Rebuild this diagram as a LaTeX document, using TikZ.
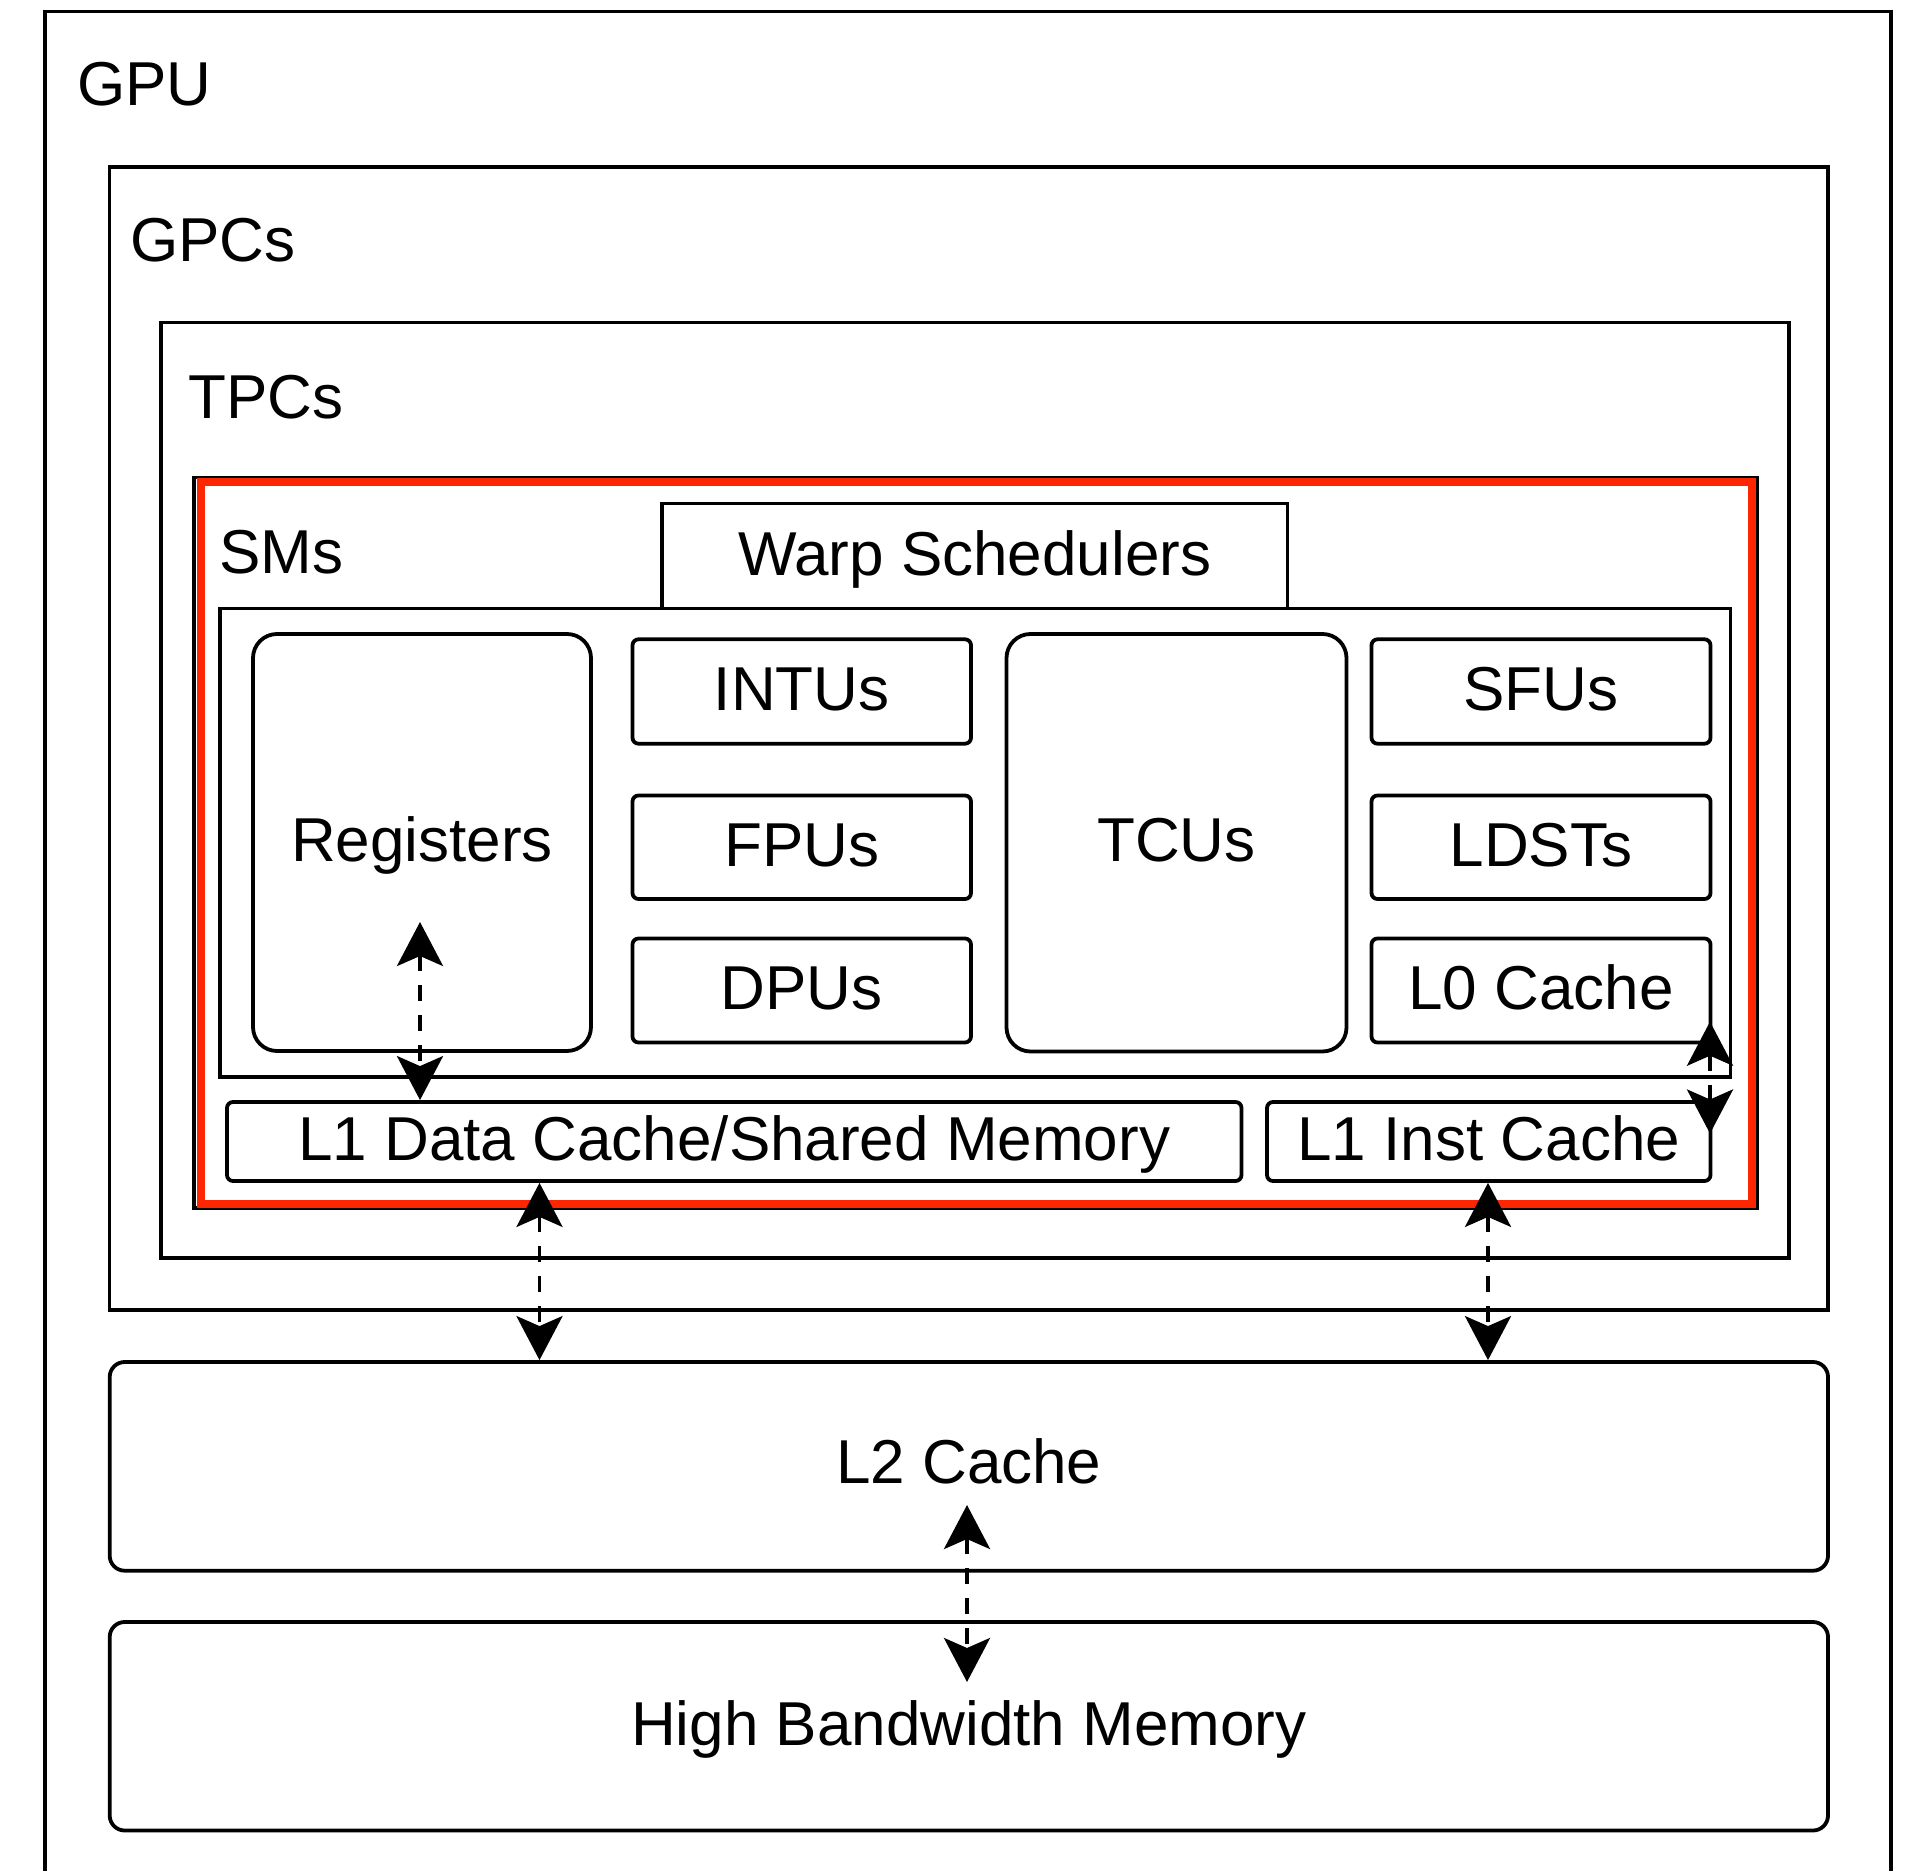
\documentclass[tikz,border=0pt]{standalone}
\usepackage{fontspec}
\setmainfont{Liberation Sans}
\usetikzlibrary{arrows.meta,fit}
\definecolor{smred}{RGB}{252,38,0}

\begin{document}
\begin{tikzpicture}[x=0.5pt,y=-0.5pt,
  every node/.style={inner sep=0pt},
  lbl/.style={font=\fontsize{31pt}{37pt}\selectfont},
  frame/.style={draw, line width=1.9pt},
  caption/.style={lbl, anchor=base, yshift=-9.5pt},
  unit/.style={frame, rounded corners=3pt},
  bigunit/.style={frame, rounded corners=12pt},
  memunit/.style={frame, rounded corners=7.5pt},
  title/.style={lbl, anchor=base west},
  link/.style={line width=1.9pt, dash pattern=on 8pt off 7pt, {Stealth[length=22pt,width=23pt,inset=5pt]}-{Stealth[length=22pt,width=23pt,inset=5pt]}}
]
\useasboundingbox (0,0) rectangle (1911,1871);
\clip (0,0) rectangle (1911,1871);

% nested containers
\node[frame, fit={(44.6,11.6) (1891,1920)}] (gpu) {};
\node[frame, fit={(109.5,167) (1828,1310)}] (gpc) {};
\node[frame, fit={(161,322.5) (1789,1258)}] (tpc) {};
\node[frame, fit={(194,477.5) (1757.5,1208)}] (sm) {};
\node[draw=smred, line width=3.8pt, fit={(201,482) (1752,1204)}] (smmark) {};

\node[title] (gputxt) at (77,105.7) {GPU};
\node[title] (gpctxt) at (130,262) {GPCs};
\node[title] (tpctxt) at (188,418.6) {TPCs};
\node[title] (smtxt) at (219,574) {SMs};

% SM core
\node[frame, fit={(220,608.5) (1730.5,1077)}] (core) {};
\node[frame, fit={(662,503.6) (1287.5,608.5)}] (warp) {};

\node[bigunit, fit={(253,634) (591,1051)}] (reg) {};
\node[unit, fit={(632.5,639.3) (971,743.7)}] (intu) {};
\node[unit, fit={(632.5,795.5) (971,899)}] (fpu) {};
\node[unit, fit={(632.5,938.5) (971,1042.5)}] (dpu) {};
\node[bigunit, fit={(1006.5,634) (1346.5,1051.5)}] (tcu) {};
\node[unit, fit={(1371.5,639.3) (1710.5,743.7)}] (sfu) {};
\node[unit, fit={(1371.5,795.5) (1710.5,899)}] (ldst) {};
\node[unit, fit={(1371.5,938.5) (1710.5,1042.5)}] (l0) {};

\node[unit, fit={(227,1102) (1241.5,1181)}] (l1d) {};
\node[unit, fit={(1267,1102) (1710.5,1181)}] (l1i) {};

% memory hierarchy below the GPCs
\node[memunit, fit={(109.7,1362) (1828,1570.7)}] (l2) {};
\node[memunit, fit={(109.7,1622) (1828,1830.5)}] (hbm) {};

% unit names, set on each box's centre line
\node[caption] (warptxt) at (warp.center) {Warp Schedulers};
\node[caption] (regtxt) at (reg.center) {Registers};
\node[caption] (intutxt) at (intu.center) {INTUs};
\node[caption] (fputxt) at (fpu.center) {FPUs};
\node[caption] (dputxt) at (dpu.center) {DPUs};
\node[caption] (tcutxt) at (tcu.center) {TCUs};
\node[caption] (sfutxt) at (sfu.center) {SFUs};
\node[caption] (ldsttxt) at (ldst.center) {LDSTs};
\node[caption] (l0txt) at (l0.center) {L0 Cache};
\node[caption] (l1dtxt) at (l1d.center) {L1 Data Cache/Shared Memory};
\node[caption] (l1itxt) at (l1i.center) {L1 Inst Cache};
\node[caption, yshift=1pt] (l2txt) at (l2.center) {L2 Cache};
\node[caption] (hbmtxt) at (hbm.center) {High Bandwidth Memory};

% data paths
\coordinate (regend) at (420,922);
\draw[link] (regend) -- (l1d.north -| regend);
\coordinate (dx) at (539.5,0);
\draw[link] (l1d.south -| dx) -- (l2.north -| dx);
\coordinate (ix) at (1488,0);
\draw[link] (l1i.south -| ix) -- (l2.north -| ix);
\coordinate (l0end) at (1710,1021.7);
\coordinate (l1iend) at (1710,1133.5);
\draw[link] (l0end) -- (l1iend);
\coordinate (l2end) at (967,1505);
\coordinate (hbmend) at (967,1682);
\draw[link] (l2end) -- (hbmend);
\end{tikzpicture}
\end{document}
